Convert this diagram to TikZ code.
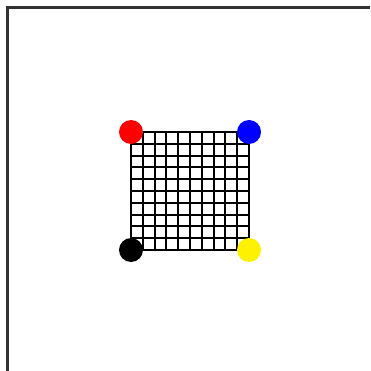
\documentclass[tikz,border=0pt]{standalone}
\usetikzlibrary{positioning}

\tikzset{
  corner/.style={circle,inner sep=0pt,minimum size=24pt},
  frameline/.style={line width=3pt,black!80},
  gridline/.style={line width=2pt,black}
}

\begin{document}
\begin{tikzpicture}[x=1pt,y=-1pt]
  \useasboundingbox (0,0) rectangle (370,371);
  \draw[frameline] (7,371) -- (7,8) -- (370,8);
  % grid, 10 x 10 cells
  \foreach \k in {0,...,10} {
    \pgfmathsetmacro{\pos}{round(11.8*\k)}
    \draw[gridline] (131+\pos,132) -- (131+\pos,250);
    \draw[gridline] (131,132+\pos) -- (249,132+\pos);
  }
  \node[corner,fill=red] (red) at (131,132) {};
  \node[corner,fill=blue] (blue) at (249,132) {};
  \node[corner,fill=black] (black) at (131,250) {};
  \node[corner,fill=yellow] (yellow) at (249,250) {};
\end{tikzpicture}
\end{document}
